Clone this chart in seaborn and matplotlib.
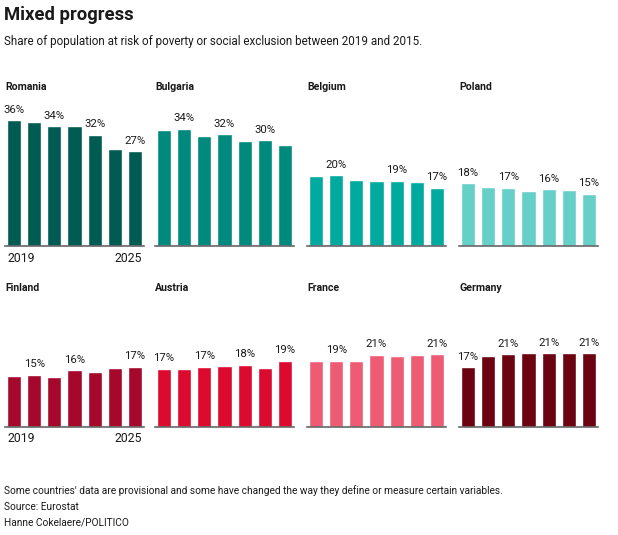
import matplotlib
matplotlib.use("Agg")
import matplotlib.pyplot as plt
import seaborn as sns
import pandas as pd

# data
years = ["2019", "2020", "2021", "2022", "2023", "2024", "2025"]
countries = ["Romania", "Bulgaria", "Belgium", "Poland",
             "Finland", "Austria", "France", "Germany"]

romania = [36.0, 35.4, 34.3, 34.3, 31.8, 27.7, 27.1]
bulgaria = [33.2, 33.6, 31.4, 32.0, 30.0, 30.3, 28.9]
belgium = [19.9, 20.2, 18.9, 18.6, 18.6, 18.3, 16.6]
poland = [17.9, 16.9, 16.7, 15.8, 16.3, 16.0, 15.0]
finland = [14.6, 14.9, 14.2, 16.3, 15.8, 16.9, 17.2]
austria = [16.7, 16.7, 17.2, 17.5, 17.8, 17.0, 18.9]
france = [18.8, 18.9, 18.8, 20.6, 20.3, 20.5, 20.8]
germany = [17.1, 20.3, 20.8, 21.1, 21.1, 21.1, 21.1]

# which bars carry a value label (index into years)
labelled = {
    "Romania": [0, 2, 4, 6],
    "Bulgaria": [1, 3, 5],
    "Belgium": [1, 4, 6],
    "Poland": [0, 2, 4, 6],
    "Finland": [1, 3, 6],
    "Austria": [0, 2, 4, 6],
    "France": [1, 3, 6],
    "Germany": [0, 2, 4, 6],
}

palette = ["#005c52", "#008a7d", "#00aa9f", "#66cfc7",
           "#a6082b", "#dc0a2e", "#ee5c74", "#6c0311"]

values = [romania, bulgaria, belgium, poland, finland, austria, france, germany]
df = pd.DataFrame({
    "country": [c for c in countries for _ in years],
    "year": years * len(countries),
    "share": [v for vals in values for v in vals],
})

sns.set_style("white")
plt.rcParams["font.family"] = ["Roboto", "DejaVu Sans"]
TXT = "#1a1a1a"

W, H = 618, 535
fig = plt.figure(figsize=(W / 100, H / 100), dpi=100)
fig.patch.set_facecolor("white")

lefts = [5, 155, 307, 459]
baselines = [246, 427]
ax_w, ax_h = 139, 146

fig.text(4 / W, 1 - 15 / H, "Mixed progress", fontsize=13.3, fontweight="bold",
         color=TXT, va="center", ha="left")
fig.text(4 / W, 1 - 42 / H,
         "Share of population at risk of poverty or social exclusion between 2019 and 2015.",
         fontsize=8.4, color=TXT, va="center", ha="left")

for i, country in enumerate(countries):
    row, col = divmod(i, 4)
    left = lefts[col]
    base = baselines[row]
    ax = fig.add_axes([left / W, (H - base) / H, ax_w / W, ax_h / H])
    sub = df[df["country"] == country]
    sns.barplot(data=sub, x="year", y="share", color=palette[i], width=0.7,
                saturation=1, ax=ax, errorbar=None)
    ax.set_xlim(-0.45, 6.45)
    ax.set_ylim(0, 41.8)
    ax.set_xlabel("")
    ax.set_ylabel("")
    ax.set_xticks([])
    ax.set_yticks([])
    ax.set_facecolor("none")
    for s in ["top", "left", "right"]:
        ax.spines[s].set_visible(False)
    ax.spines["bottom"].set_color("#666666")
    ax.spines["bottom"].set_linewidth(1.2)

    shares = sub["share"].tolist()
    labels = [f"{round(v)}%" if j in labelled[country] else ""
              for j, v in enumerate(shares)]
    ax.bar_label(ax.containers[0], labels=labels, padding=4,
                 fontsize=8.2, color=TXT)

    title_y = 87 if row == 0 else 288
    fig.text(left / W, 1 - title_y / H, country, fontsize=7.6,
             fontweight="bold", color=TXT, va="center", ha="left")

    if col == 0:
        tr = ax.get_xaxis_transform()
        ax.text(-0.35, -12 / ax_h, years[0], transform=tr, ha="left",
                va="center", fontsize=8.8, color=TXT)
        ax.text(6.35, -12 / ax_h, years[-1], transform=tr, ha="right",
                va="center", fontsize=8.8, color=TXT)

footer = ["Some countries' data are provisional and some have changed the way they define or measure certain variables.",
          "Source: Eurostat",
          "Hanne Cokelaere/POLITICO"]
for k, line in enumerate(footer):
    fig.text(4 / W, 1 - (491 + 15.5 * k) / H, line, fontsize=7.3,
             color=TXT, va="center", ha="left")

fig.savefig("out.png", dpi=100, facecolor="white")
